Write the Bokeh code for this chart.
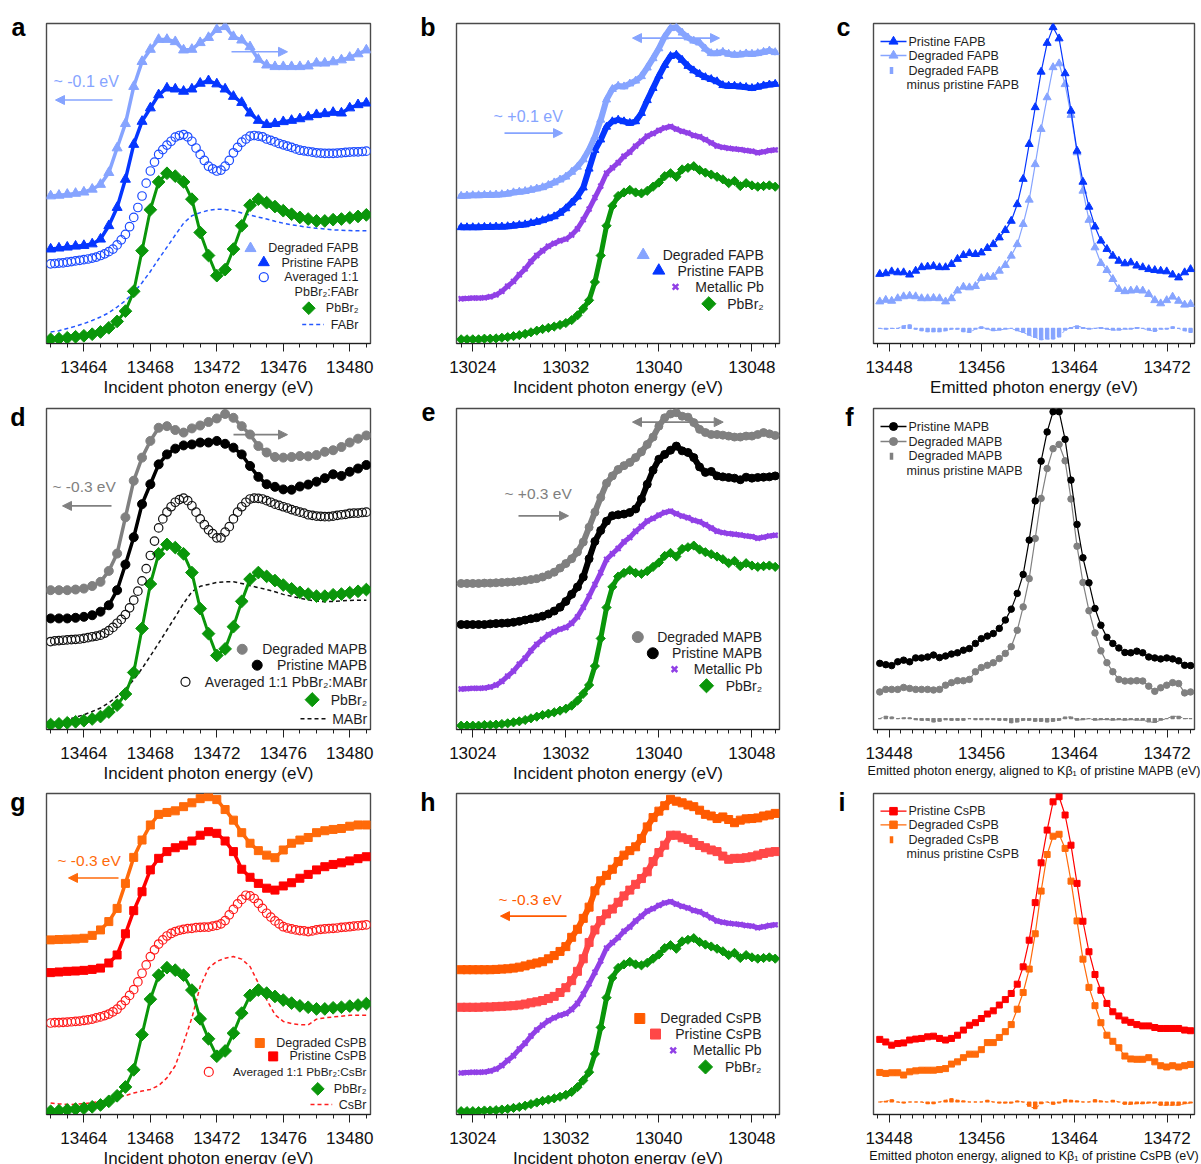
import math

from bokeh.embed import file_html
from bokeh.layouts import column, row
from bokeh.models import Arrow, FixedTicker, Label, NormalHead, Range1d, SingleIntervalTicker
from bokeh.plotting import figure
from bokeh.resources import INLINE

FONT = "Liberation Sans"
TEXT = "#1e1e1e"

# ---------------------------------------------------------------------------
# Energy grids (eV)
# ---------------------------------------------------------------------------
br_energy = [13462.0, 13462.5, 13463.0, 13463.5, 13464.0, 13464.5, 13465.0, 13465.5,
             13466.0, 13466.5, 13467.0, 13467.5, 13468.0, 13468.5, 13469.0, 13469.5,
             13470.0, 13470.5, 13471.0, 13471.5, 13472.0, 13472.5, 13473.0, 13473.5,
             13474.0, 13474.5, 13475.0, 13475.5, 13476.0, 13476.5, 13477.0, 13477.5,
             13478.0, 13478.5, 13479.0, 13479.5, 13480.0, 13480.5, 13481.0]

# finer grid used for the averaged (1:1 mixture) spectra
br_fine_energy = [13462.00, 13462.25, 13462.50, 13462.75, 13463.00, 13463.25, 13463.50,
                  13463.75, 13464.00, 13464.25, 13464.50, 13464.75, 13465.00, 13465.25,
                  13465.50, 13465.75, 13466.00, 13466.25, 13466.50, 13466.75, 13467.00,
                  13467.25, 13467.50, 13467.75, 13468.00, 13468.25, 13468.50, 13468.75,
                  13469.00, 13469.25, 13469.50, 13469.75, 13470.00, 13470.25, 13470.50,
                  13470.75, 13471.00, 13471.25, 13471.50, 13471.75, 13472.00, 13472.25,
                  13472.50, 13472.75, 13473.00, 13473.25, 13473.50, 13473.75, 13474.00,
                  13474.25, 13474.50, 13474.75, 13475.00, 13475.25, 13475.50, 13475.75,
                  13476.00, 13476.25, 13476.50, 13476.75, 13477.00, 13477.25, 13477.50,
                  13477.75, 13478.00, 13478.25, 13478.50, 13478.75, 13479.00, 13479.25,
                  13479.50, 13479.75, 13480.00, 13480.25, 13480.50, 13480.75, 13481.00]

pb_energy = [13023.0, 13023.5, 13024.0, 13024.5, 13025.0, 13025.5, 13026.0, 13026.5,
             13027.0, 13027.5, 13028.0, 13028.5, 13029.0, 13029.5, 13030.0, 13030.5,
             13031.0, 13031.5, 13032.0, 13032.5, 13033.0, 13033.5, 13034.0, 13034.5,
             13035.0, 13035.5, 13036.0, 13036.5, 13037.0, 13037.5, 13038.0, 13038.5,
             13039.0, 13039.5, 13040.0, 13040.5, 13041.0, 13041.5, 13042.0, 13042.5,
             13043.0, 13043.5, 13044.0, 13044.5, 13045.0, 13045.5, 13046.0, 13046.5,
             13047.0, 13047.5, 13048.0, 13048.5, 13049.0, 13049.5, 13050.0]

kb_energy = [13447.20, 13447.72, 13448.23, 13448.75, 13449.26, 13449.78, 13450.30, 13450.81,
             13451.33, 13451.84, 13452.36, 13452.88, 13453.39, 13453.91, 13454.42, 13454.94,
             13455.46, 13455.97, 13456.49, 13457.00, 13457.52, 13458.04, 13458.55, 13459.07,
             13459.58, 13460.10, 13460.62, 13461.13, 13461.65, 13462.16, 13462.68, 13463.20,
             13463.71, 13464.23, 13464.74, 13465.26, 13465.78, 13466.29, 13466.81, 13467.32,
             13467.84, 13468.36, 13468.87, 13469.39, 13469.90, 13470.42, 13470.94, 13471.45,
             13471.97, 13472.48, 13473.00, 13473.52, 13474.03]

# ---------------------------------------------------------------------------
# Br K-edge HERFD-XANES, stacked (arbitrary units)
# ---------------------------------------------------------------------------
pbbr2_br = [1.3, 1.5, 1.8, 2.1, 2.4, 2.9, 3.6, 4.9, 6.9, 10.1, 16.3, 29.0, 41.8, 50.5, 53.2,
            52.3, 50.5, 45.1, 34.7, 27.5, 21.2, 23.1, 29.5, 36.8, 43.2, 45.1, 44.0, 42.8,
            41.5, 40.4, 39.4, 38.9, 38.3, 38.3, 38.7, 38.9, 39.3, 39.7, 40.2]

fapb_degraded_br = [46.1, 46.3, 46.6, 46.9, 47.3, 48.2, 49.7, 53.4, 61.1, 68.7, 80.3, 88.1,
                    91.9, 95.0, 95.0, 94.3, 91.7, 91.9, 94.0, 95.6, 98.1, 99.0, 95.9, 94.8,
                    92.7, 88.8, 87.0, 86.5, 86.5, 86.5, 86.5, 86.7, 87.6, 87.6, 88.0, 88.6,
                    89.4, 90.5, 91.7]
fapb_pristine_br = [29.5, 29.8, 30.1, 30.4, 30.6, 31.1, 32.6, 36.8, 42.5, 51.3, 62.2, 69.4,
                    73.6, 77.7, 79.8, 79.5, 78.8, 79.5, 81.3, 82.1, 81.1, 79.5, 77.2, 75.3,
                    72.0, 69.7, 68.4, 68.7, 69.3, 69.7, 70.2, 70.8, 71.5, 71.8, 72.2, 72.0,
                    73.6, 74.6, 75.1]
fa_average_br = [24.9, 25.0, 25.1, 25.2, 25.4, 25.6, 25.8, 26.0, 26.2, 26.4,
                 26.7, 27.0, 27.5, 28.0, 28.7, 29.5, 30.8, 32.4, 34.1, 36.5,
                 39.4, 42.5, 46.1, 50.1, 53.9, 56.7, 59.1, 60.6, 62.0, 63.2,
                 64.5, 65.0, 65.3, 64.6, 63.2, 61.1, 59.1, 57.2, 55.4, 54.6,
                 53.9, 54.2, 55.4, 57.2, 59.6, 61.3, 62.9, 63.9, 64.8, 65.0,
                 64.8, 64.6, 63.9, 63.5, 63.0, 62.5, 62.1, 61.7, 61.3, 60.8,
                 60.4, 60.2, 60.0, 59.8, 59.6, 59.5, 59.4, 59.4, 59.4, 59.5,
                 59.6, 59.7, 59.8, 59.9, 59.9, 60.0, 60.1]
fabr_br = [3.6, 4.0, 4.7, 5.4, 6.2, 7.2, 8.3, 9.6, 11.4, 13.4, 15.9, 19.0, 22.5, 26.4, 30.1,
           33.9, 37.6, 39.9, 40.9, 41.6, 42.0, 41.9, 41.5, 40.8, 40.1, 39.5, 38.9, 38.2, 37.6,
           37.1, 36.7, 36.3, 36.0, 35.8, 35.5, 35.4, 35.3, 35.2, 35.2]

mapb_degraded_br = [43.4, 43.4, 43.4, 43.6, 43.9, 44.7, 46.0, 49.4, 54.8, 66.1, 77.5, 84.7,
                    89.9, 94.0, 94.5, 93.3, 92.5, 93.8, 94.7, 95.8, 96.9, 98.3, 97.1, 94.5,
                    91.9, 88.3, 86.3, 84.9, 84.7, 84.9, 85.2, 85.1, 85.5, 86.5, 87.0, 88.0,
                    89.4, 90.6, 91.6]
mapb_pristine_br = [34.6, 34.6, 34.6, 34.8, 35.1, 35.6, 36.7, 38.7, 43.4, 51.4, 59.9, 70.2,
                    76.4, 82.6, 85.7, 87.5, 88.5, 88.8, 89.4, 89.4, 89.9, 89.0, 87.8, 85.7,
                    82.1, 78.7, 76.4, 75.6, 74.8, 74.7, 75.7, 76.3, 77.2, 78.3, 79.5, 79.0,
                    80.3, 81.3, 82.4]
ma_average_br = [27.4, 27.6, 27.7, 27.8, 27.9, 28.0, 28.1, 28.2, 28.4, 28.6,
                 28.9, 29.1, 29.4, 30.0, 30.8, 31.8, 33.1, 34.3, 35.8, 37.9,
                 40.3, 43.1, 46.3, 50.1, 54.2, 58.7, 62.8, 65.6, 67.7, 69.4,
                 70.8, 71.6, 72.1, 71.3, 69.7, 67.7, 65.6, 63.8, 62.2, 61.0,
                 59.7, 59.7, 61.5, 63.2, 65.6, 67.7, 69.4, 70.8, 71.8, 72.1,
                 72.0, 71.8, 71.3, 70.8, 70.2, 69.8, 69.4, 69.0, 68.5, 68.1,
                 67.7, 67.4, 66.9, 66.7, 66.5, 66.4, 66.3, 66.3, 66.5, 66.7,
                 66.9, 67.0, 67.3, 67.4, 67.4, 67.6, 67.7]
mabr_br = [2.1, 2.6, 3.1, 3.8, 4.6, 5.6, 6.7, 8.3, 10.3, 12.6, 15.5, 19.0, 22.9, 26.9, 31.0,
           35.1, 39.3, 42.9, 44.6, 45.2, 45.8, 46.0, 46.0, 45.5, 44.8, 44.2, 43.6, 42.9, 42.1,
           41.5, 40.9, 40.4, 40.0, 39.8, 39.9, 40.1, 40.2, 40.3, 40.3]

cspb_degraded_br = [54.4, 54.5, 54.6, 54.7, 54.9, 55.8, 57.5, 60.1, 64.2, 72.0, 80.1, 85.5,
                    90.2, 93.5, 94.1, 94.6, 95.9, 97.1, 98.4, 99.0, 98.1, 95.0, 91.7, 87.8,
                    84.5, 82.2, 80.8, 80.0, 82.4, 84.5, 85.5, 86.3, 87.8, 88.4, 88.8, 89.1,
                    89.8, 90.2, 90.2]
cspb_pristine_br = [44.2, 44.4, 44.6, 44.7, 44.9, 45.2, 45.6, 47.2, 49.7, 56.3, 63.5, 69.4,
                    76.2, 79.8, 81.9, 83.1, 83.9, 85.2, 87.0, 88.1, 87.6, 85.2, 81.9, 76.4,
                    73.9, 72.0, 70.5, 69.9, 71.2, 72.2, 73.6, 74.8, 76.2, 77.2, 77.9, 78.4,
                    79.0, 79.7, 80.3]
cs_average_br = [28.5, 28.6, 28.6, 28.7, 28.8, 28.9, 29.0, 29.1, 29.3, 29.5,
                 29.7, 30.1, 30.4, 30.8, 31.3, 32.0, 32.8, 34.1, 35.5, 37.1,
                 38.9, 41.3, 44.0, 46.6, 49.2, 51.3, 53.1, 54.4, 55.6, 56.4,
                 57.0, 57.4, 57.7, 57.9, 58.0, 58.2, 58.3, 58.4, 58.4, 58.7,
                 58.9, 59.4, 60.4, 62.2, 63.9, 65.6, 67.0, 68.3, 68.1, 67.3,
                 65.8, 64.2, 62.7, 61.5, 60.3, 59.4, 58.5, 58.1, 57.8, 57.5,
                 57.3, 57.2, 57.0, 57.2, 57.5, 57.7, 57.8, 57.9, 58.0, 58.1,
                 58.3, 58.4, 58.5, 58.7, 58.8, 58.9, 59.1]
csbr_br = [3.6, 3.3, 3.1, 3.2, 3.4, 3.7, 4.1, 4.7, 5.2, 5.9, 6.7, 7.3, 7.8, 9.0, 11.4, 15.2,
           22.3, 30.1, 39.9, 45.6, 47.7, 48.7, 49.2, 48.4, 46.1, 40.9, 35.8, 31.1, 29.0, 28.3,
           28.0, 27.9, 29.7, 30.1, 30.4, 30.6, 30.9, 30.9, 30.9]

# ---------------------------------------------------------------------------
# Pb L3-edge HERFD-XANES, stacked (arbitrary units)
# ---------------------------------------------------------------------------
pbbr2_pb = [1.3, 1.3, 1.3, 1.3, 1.5, 1.5, 1.6, 1.8, 2.0, 2.3, 2.6, 3.0, 3.5, 4.0, 4.5, 4.9,
            5.3, 5.8, 6.4, 7.3, 8.8, 10.9, 13.5, 19.2, 27.5, 36.8, 43.0, 46.1, 47.2, 48.0,
            47.2, 46.9, 47.7, 49.0, 50.3, 52.3, 53.2, 52.1, 54.4, 54.9, 55.4, 54.2, 53.4,
            52.8, 52.1, 51.3, 50.1, 50.8, 49.2, 50.1, 49.4, 49.0, 49.2, 49.4, 49.0]
metal_pb = [14.0, 14.1, 14.2, 14.2, 14.3, 14.6, 15.2, 16.3, 17.9, 19.4, 21.5, 23.3, 25.6, 27.5,
            29.0, 30.4, 31.3, 32.1, 32.6, 33.9, 35.8, 38.7, 42.0, 45.6, 49.2, 53.2, 54.9, 56.5,
            58.5, 59.8, 61.7, 63.2, 64.8, 65.6, 66.6, 67.4, 67.8, 67.0, 66.3, 65.8, 65.0, 64.6,
            63.7, 62.7, 61.7, 61.3, 61.0, 60.8, 60.6, 60.3, 60.1, 59.6, 59.9, 60.3, 60.5]

fapb_degraded_pb = [46.1, 46.2, 46.3, 46.3, 46.4, 46.4, 46.5, 46.6, 46.8, 47.2, 47.4, 47.6,
                    48.0, 48.4, 48.8, 49.5, 50.3, 51.2, 52.1, 53.6, 55.2, 57.5, 60.6, 64.6,
                    69.9, 76.2, 79.5, 80.5, 80.3, 81.2, 82.1, 83.5, 86.2, 89.1, 92.2, 95.9,
                    98.5, 98.8, 97.1, 95.6, 94.6, 94.0, 92.1, 90.7, 90.7, 91.1, 90.5, 90.2,
                    90.3, 90.6, 90.5, 90.7, 91.1, 91.5, 91.0]
fapb_pristine_pb = [36.3, 36.3, 36.3, 36.3, 36.4, 36.4, 36.5, 36.5, 36.6, 36.8, 37.0, 37.2,
                    37.6, 38.0, 38.5, 39.1, 39.7, 40.8, 42.2, 44.0, 45.9, 48.7, 54.6, 60.4,
                    63.7, 67.7, 69.4, 69.9, 69.4, 68.9, 69.4, 72.0, 76.0, 79.8, 83.6, 87.0,
                    89.8, 90.2, 88.6, 86.7, 85.3, 84.2, 83.2, 82.6, 81.9, 80.7, 80.5, 80.5,
                    80.3, 80.1, 79.8, 80.2, 80.6, 80.9, 81.1]
mapb_degraded_pb = [45.5, 45.5, 45.5, 45.5, 45.6, 45.6, 45.7, 45.8, 45.9, 46.0, 46.2, 46.4,
                    46.7, 47.0, 47.5, 48.2, 49.0, 50.3, 51.7, 53.2, 55.3, 58.4, 63.0, 67.7,
                    72.3, 76.7, 79.0, 81.0, 82.2, 83.2, 84.7, 86.5, 88.8, 91.1, 94.5, 97.1,
                    98.3, 98.7, 97.6, 97.3, 95.6, 93.5, 92.5, 91.9, 91.9, 91.7, 91.4, 91.1,
                    91.1, 91.4, 91.4, 91.9, 92.5, 92.1, 91.6]
mapb_pristine_pb = [32.7, 32.7, 32.7, 32.7, 32.7, 32.9, 33.0, 33.1, 33.2, 33.4, 33.7, 34.1,
                    34.5, 34.8, 35.3, 36.0, 36.9, 38.1, 39.9, 42.1, 44.4, 47.5, 53.2, 58.6,
                    62.0, 64.9, 66.6, 66.9, 67.1, 67.6, 68.7, 71.8, 76.4, 80.8, 84.2, 85.7,
                    87.0, 88.3, 86.8, 86.3, 84.7, 81.8, 80.1, 80.4, 79.0, 78.7, 78.5, 78.3,
                    77.8, 78.6, 78.3, 78.5, 78.6, 78.7, 79.0]
cspb_degraded_pb = [45.1, 45.1, 45.1, 45.1, 45.1, 45.1, 45.2, 45.3, 45.4, 45.6, 45.9, 46.3,
                    46.8, 47.2, 47.6, 48.5, 49.5, 50.8, 52.3, 55.2, 57.7, 61.1, 64.6, 69.7,
                    72.8, 74.5, 76.4, 78.8, 80.8, 82.2, 83.4, 86.0, 89.6, 92.5, 94.5, 96.2,
                    98.2, 97.6, 97.1, 96.4, 95.9, 94.8, 93.5, 93.0, 92.2, 92.7, 91.9, 90.9,
                    91.7, 92.1, 92.2, 92.4, 93.0, 93.3, 93.8]
cspb_pristine_pb = [33.4, 33.4, 33.4, 33.4, 33.5, 33.5, 33.6, 33.7, 33.8, 33.9, 34.1, 34.4,
                    34.8, 35.1, 35.5, 36.1, 36.8, 38.0, 39.5, 41.7, 44.6, 48.5, 53.6, 57.5,
                    60.4, 62.5, 64.0, 66.1, 68.1, 69.9, 71.7, 73.5, 75.6, 78.8, 81.6, 83.9,
                    87.0, 87.0, 86.2, 85.7, 84.7, 83.8, 83.1, 82.4, 81.9, 80.5, 79.5, 79.8,
                    79.8, 80.0, 80.3, 80.8, 81.3, 81.7, 81.9]

# ---------------------------------------------------------------------------
# Pb K-beta1 emission (arbitrary units) and degraded-minus-pristine differences
# ---------------------------------------------------------------------------
fapb_pristine_kb = [21.7, 21.9, 22.5, 22.2, 22.2, 21.5, 22.7, 23.8, 24.0, 24.2, 23.8, 23.8,
                    24.8, 26.4, 27.6, 28.2, 27.9, 28.4, 29.8, 31.0, 33.1, 35.4, 38.3, 43.5,
                    51.4, 62.3, 73.8, 84.9, 93.9, 98.8, 95.3, 84.4, 72.7, 60.2, 50.5, 42.7,
                    36.5, 32.1, 29.5, 27.4, 25.8, 25.0, 25.3, 24.3, 23.8, 23.2, 22.9, 22.7,
                    22.5, 21.5, 20.6, 22.2, 23.2]
fapb_degraded_kb = [13.1, 13.6, 13.3, 14.1, 14.7, 14.9, 14.7, 14.1, 14.1, 14.2, 14.1, 13.1,
                    14.1, 16.5, 17.7, 17.5, 17.9, 20.4, 20.8, 20.8, 22.7, 24.5, 27.4, 31.0,
                    37.3, 44.9, 56.0, 67.0, 76.9, 86.3, 87.5, 81.0, 71.4, 59.7, 47.7, 38.6,
                    30.0, 25.1, 22.9, 20.1, 17.0, 16.3, 16.5, 16.7, 16.5, 15.4, 13.5, 12.5,
                    13.5, 14.6, 13.3, 12.1, 12.3]
fapb_diff_kb = [0.0, -0.2, 0.0, 0.0, 0.8, 1.1, -0.2, -0.7, -1.0, -1.0, -1.0, -0.7, -0.2, -0.2,
                -1.0, -1.2, -0.2, 0.5, -0.2, -0.7, -0.5, -0.2, 0.0, -0.7, -1.2, -2.1, -2.8,
                -3.5, -3.3, -3.3, -2.6, -0.5, 0.3, 0.8, 0.3, -0.2, 0.0, 0.3, -0.2, -0.5, -0.5,
                -0.2, -0.2, 0.3, 0.0, -0.5, -0.9, -0.2, -0.2, 0.5, 0.0, -0.7, -1.2]

mapb_pristine_kb = [20.6, 20.2, 19.9, 21.1, 21.6, 21.1, 22.3, 22.3, 22.6, 23.2, 22.4, 22.9,
                    23.5, 23.9, 24.7, 25.2, 26.8, 28.3, 29.1, 29.9, 31.5, 34.1, 37.5, 42.4,
                    48.3, 59.0, 71.2, 83.6, 92.7, 99.0, 99.0, 90.4, 77.7, 63.9, 53.5, 45.7,
                    37.7, 32.5, 28.7, 26.8, 25.4, 24.0, 23.9, 24.4, 23.9, 22.6, 22.3, 22.0,
                    22.3, 22.0, 21.4, 20.0, 19.9]
mapb_degraded_kb = [11.7, 12.5, 12.5, 12.5, 13.1, 12.8, 12.5, 12.5, 12.5, 12.3, 12.5, 13.8,
                    14.6, 15.2, 15.2, 15.6, 18.0, 19.3, 20.0, 20.8, 22.1, 23.7, 25.8, 30.9,
                    38.2, 47.0, 59.5, 72.0, 81.3, 87.5, 88.8, 83.7, 71.8, 57.1, 45.8, 37.0,
                    30.1, 24.5, 20.8, 18.0, 15.6, 15.1, 15.1, 15.2, 15.1, 13.5, 11.9, 13.0,
                    13.8, 14.6, 14.3, 11.4, 11.7]
mapb_diff_kb = [0.0, 0.7, 0.5, 0.0, 0.2, 0.2, -0.3, -0.5, -0.5, -1.0, -0.8, -0.3, -0.5, -0.5,
                -0.5, 0.0, -0.3, -0.3, -0.3, -0.3, -0.5, -0.5, -1.3, -1.0, -0.5, -0.5, -0.8,
                -0.8, -1.0, -0.8, -0.5, 0.5, 0.5, -0.5, -0.3, 0.0, -0.5, -0.3, -0.3, -0.5,
                -0.3, -0.5, -0.3, -0.5, -0.5, -1.0, -1.2, -0.5, 0.0, 0.7, 0.7, 0.0, 0.0]

cspb_pristine_kb = [23.4, 22.6, 21.6, 22.1, 22.3, 23.2, 23.5, 23.7, 24.2, 24.4, 23.7, 23.2,
                    23.7, 24.7, 26.3, 27.8, 28.6, 29.9, 31.3, 32.3, 34.1, 35.8, 37.7, 40.6,
                    46.0, 54.3, 66.0, 78.4, 88.6, 97.4, 99.0, 93.3, 83.9, 72.0, 60.2, 50.7,
                    43.6, 38.7, 34.6, 32.0, 30.7, 29.4, 28.7, 28.0, 27.6, 27.6, 27.1, 26.8,
                    26.8, 26.8, 26.8, 26.3, 26.1]
cspb_degraded_kb = [13.1, 12.8, 13.0, 13.0, 12.3, 13.3, 13.6, 13.8, 13.8, 13.8, 14.0, 14.3,
                    15.7, 16.4, 17.7, 18.8, 18.8, 20.2, 22.4, 22.4, 24.0, 25.8, 28.0, 32.8,
                    38.0, 45.3, 56.3, 69.6, 81.0, 86.7, 87.3, 82.9, 72.7, 60.3, 48.4, 39.6,
                    33.9, 28.6, 24.7, 22.8, 20.8, 18.2, 17.3, 17.2, 17.2, 17.7, 16.4, 15.2,
                    14.8, 15.2, 14.8, 15.2, 15.6]
cspb_diff_kb = [0.0, 0.2, 0.7, 0.0, -0.3, 0.0, 0.0, 0.0, -0.5, -0.5, 0.0, 0.5, 1.0, 0.5, 0.3,
                0.0, 0.0, 0.0, 0.5, 0.0, -0.3, -0.3, -0.3, 0.3, 0.0, -1.3, -2.1, -0.5, 0.0,
                -0.7, -0.3, 0.7, 0.5, 0.3, 0.0, 0.0, 0.7, 0.3, 0.0, 0.5, 0.0, -0.7, -0.7, -0.5,
                -0.5, -0.3, -0.3, -1.0, -1.0, -1.0, -1.0, -0.5, -0.3]

# vertical stacking (scale, offset) of the shared reference spectra in each panel
PBBR2_BR_STACK = {"a": (1.0, 0.0), "d": (1.081, 0.14), "g": (0.862, -0.12)}
METAL_STACK = {"b": (1.0, 0.0), "e": (1.03, -1.8), "h": (0.992, -0.93)}
PBBR2_PB_STACK = {"b": (1.0, 0.0), "e": (1.037, -0.15), "h": (0.996, -0.25)}
# baseline of the difference traces
DIFF_BASE = {"c": 4.7, "f": 3.4, "i": 3.9}

# ---------------------------------------------------------------------------
# Colours
# ---------------------------------------------------------------------------
LIGHT_BLUE = "#86A4FF"
BLUE = "#0536FF"
GREEN = "#0A960A"
GRAY = "#808080"
BLACK = "#000000"
ORANGE = "#FF6A0A"
RED = "#FF0000"
SALMON = "#FF4747"
ORANGE_H = "#FF5A00"
PURPLE = "#9140E6"
FRAME_COLOR = "#4a4a4a"

# ---------------------------------------------------------------------------
# Page geometry: frame boxes (left, top, width, height) in page pixels
# ---------------------------------------------------------------------------
FRAMES = {
    "a": (46, 23, 324, 322), "b": (456, 23, 323, 322), "c": (873, 23, 321, 320),
    "d": (46, 407, 324, 323), "e": (456, 407, 323, 323), "f": (873, 408, 321, 321),
    "g": (46, 793, 324, 322), "h": (456, 793, 323, 322), "i": (873, 793, 321, 321),
}
BR_RANGE = (13461.75, 13481.25)
PB_RANGE = (13022.6, 13050.37)
KB_RANGE = (13446.66, 13474.37)
XR = {"a": BR_RANGE, "d": BR_RANGE, "g": BR_RANGE,
      "b": PB_RANGE, "e": PB_RANGE, "h": PB_RANGE,
      "c": KB_RANGE, "f": KB_RANGE, "i": KB_RANGE}
GRID_POS = {"a": (0, 0), "b": (0, 1), "c": (0, 2),
            "d": (1, 0), "e": (1, 1), "f": (1, 2),
            "g": (2, 0), "h": (2, 1), "i": (2, 2)}
COL_X = [0, 410, 826]
COL_W = [410, 416, 374]
ROW_Y = [0, 400, 785]
ROW_H = [400, 385, 385]
# right edge (page px) of each panel letter
LETTER_RIGHT = {"a": 25, "b": 435, "c": 850, "d": 25, "e": 435, "f": 853,
                "g": 25, "h": 435, "i": 845}


def to_data(key, px, py):
    """Convert a page-pixel position to data coordinates of panel `key`."""
    left, top, w, h = FRAMES[key]
    x0, x1 = XR[key]
    return x0 + (px - left) / w * (x1 - x0), 100.0 * (top + h - py) / h


def stacked(vals, scale_offset):
    k, off = scale_offset
    return [off + k * v for v in vals]


def make_panel(key, interval, xlabel, xlabel_size="17px"):
    r, c = GRID_POS[key]
    left, top, w, h = FRAMES[key]
    x0, x1 = XR[key]
    p = figure(width=COL_W[c], height=ROW_H[r],
               x_range=Range1d(x0, x1), y_range=Range1d(0, 100),
               min_border_left=left - COL_X[c],
               min_border_right=COL_X[c] + COL_W[c] - left - w,
               min_border_top=top - ROW_Y[r],
               min_border_bottom=ROW_Y[r] + ROW_H[r] - top - h,
               output_backend="svg", toolbar_location=None)
    p.grid.visible = False
    p.background_fill_color = "white"
    p.border_fill_color = "white"
    p.outline_line_color = FRAME_COLOR
    p.outline_line_width = 1.4

    ax = p.xaxis[0]
    ax.ticker = SingleIntervalTicker(interval=interval, num_minor_ticks=interval)
    ax.axis_line_color = "#202020"
    ax.major_tick_line_color = "#202020"
    ax.minor_tick_line_color = "#202020"
    ax.major_tick_out = 8
    ax.major_tick_in = 0
    ax.minor_tick_out = 4
    ax.minor_tick_in = 0
    ax.major_label_text_font = FONT
    ax.major_label_text_font_size = "17px"
    ax.major_label_text_color = "#111111"
    ax.major_label_standoff = 9
    ax.axis_label = xlabel
    ax.axis_label_text_font = FONT
    ax.axis_label_text_font_size = xlabel_size
    ax.axis_label_text_font_style = "normal"
    ax.axis_label_text_color = "#111111"
    ax.axis_label_standoff = 2

    # the left axis carries only the bold panel letter
    yax = p.yaxis[0]
    yax.ticker = FixedTicker(ticks=[99])
    yax.major_label_overrides = {99: key}
    yax.axis_line_color = None
    yax.major_tick_line_color = None
    yax.minor_tick_line_color = None
    yax.major_tick_out = 0
    yax.major_tick_in = 0
    yax.major_label_text_font = FONT
    yax.major_label_text_font_size = "25px"
    yax.major_label_text_font_style = "bold"
    yax.major_label_text_color = "#000000"
    yax.major_label_standoff = left - LETTER_RIGHT[key]
    return p


def add_text(p, key, px, py, text, size, align="right", color=TEXT):
    x, y = to_data(key, px, py)
    p.add_layout(Label(x=x, y=y, text=text, text_font=FONT, text_font_size=size,
                       text_align=align, text_baseline="middle", text_color=color))


def add_key(p, key, px, py, **kw):
    x, y = to_data(key, px, py)
    p.scatter([x], [y], **kw)


def add_key_line(p, key, px0, px1, py, **kw):
    xa, y = to_data(key, px0, py)
    xb, _ = to_data(key, px1, py)
    p.line([xa, xb], [y, y], **kw)


def add_arrow(p, key, px0, px1, py, color, both=False):
    xa, y = to_data(key, px0, py)
    xb, _ = to_data(key, px1, py)
    head = dict(size=9, fill_color=color, line_color=color, line_width=1)
    p.add_layout(Arrow(end=NormalHead(**head),
                       start=NormalHead(**head) if both else None,
                       x_start=xa, y_start=y, x_end=xb, y_end=y,
                       line_color=color, line_width=1.6))


ROT = math.pi / 4
DIAMOND = dict(marker="square", angle=ROT)


def band(p, x, y, color, width=6):
    p.line(x, y, line_color=color, line_width=width, line_join="round", line_cap="round")


def filled(p, x, y, color, marker, size, angle=0.0):
    p.scatter(x, y, marker=marker, size=size, angle=angle, fill_color=color,
              line_color=color)


def rings(p, x, y, color, size, width=1.2):
    p.scatter(x, y, marker="circle", size=size, fill_alpha=0, line_color=color,
              line_width=width)


INC_LABEL = "Incident photon energy (eV)"

# ---------------------------------------------------------------------------
# Left column: Br K-edge
# ---------------------------------------------------------------------------
def br_panel(key, cfg):
    p = make_panel(key, 4, INC_LABEL)
    ref = stacked(pbbr2_br, PBBR2_BR_STACK[key])
    p.line(br_energy, cfg["salt"], line_color=cfg["salt_color"], line_width=1.5,
           line_dash="4 3")
    band(p, br_energy, ref, GREEN, 3)
    filled(p, br_energy, ref, GREEN, "square", 9, ROT)
    rings(p, br_fine_energy, cfg["avg"], cfg["avg_color"], 8.5)
    for vals, col in ((cfg["pristine"], cfg["pristine_color"]),
                      (cfg["degraded"], cfg["degraded_color"])):
        band(p, br_energy, vals, col, 3.5)
        filled(p, br_energy, vals, col, cfg["marker"], cfg["msize"])
    return p


# panel a
pa = br_panel("a", dict(salt=fabr_br, salt_color="#2457FF", avg=fa_average_br,
                        avg_color="#1C4BFF", pristine=fapb_pristine_br,
                        pristine_color=BLUE, degraded=fapb_degraded_br,
                        degraded_color=LIGHT_BLUE, marker="triangle", msize=10))
add_text(pa, "a", 53, 81, "~ -0.1 eV", "16px", align="left", color=LIGHT_BLUE)
add_arrow(pa, "a", 112, 55, 100, LIGHT_BLUE)
add_arrow(pa, "a", 231, 287, 51.5, LIGHT_BLUE)
add_key(pa, "a", 250, 249.3, marker="triangle", size=11, fill_color=LIGHT_BLUE,
        line_color=LIGHT_BLUE)
add_text(pa, "a", 358, 249.3, "Degraded FAPB", "12.5px")
add_key(pa, "a", 263.3, 263.5, marker="triangle", size=11, fill_color=BLUE, line_color=BLUE)
add_text(pa, "a", 358, 263.5, "Pristine FAPB", "12.5px")
add_key(pa, "a", 263.3, 278.3, marker="circle", size=9, fill_alpha=0, line_color="#1C4BFF",
        line_width=1.3)
add_text(pa, "a", 358, 278.3, "Averaged 1:1", "12.5px")
add_text(pa, "a", 358, 293.3, "PbBr₂:FABr", "12.5px")
add_key(pa, "a", 308.3, 309.5, size=9, fill_color=GREEN, line_color=GREEN, **DIAMOND)
add_text(pa, "a", 358, 309.5, "PbBr₂", "12.5px")
add_key_line(pa, "a", 301.7, 323.3, 326, line_color="#2457FF", line_width=1.5,
             line_dash="4 3")
add_text(pa, "a", 358, 326, "FABr", "12.5px")

# panel d
pd_ = br_panel("d", dict(salt=mabr_br, salt_color="#111111", avg=ma_average_br,
                         avg_color="#111111", pristine=mapb_pristine_br,
                         pristine_color=BLACK, degraded=mapb_degraded_br,
                         degraded_color=GRAY, marker="circle", msize=9))
add_text(pd_, "d", 52, 485, "~ -0.3 eV", "15.5px", align="left", color=GRAY)
add_arrow(pd_, "d", 111, 62, 505, GRAY)
add_arrow(pd_, "d", 233, 287, 433.3, GRAY)
add_key(pd_, "d", 241.7, 649.3, marker="circle", size=10, fill_color=GRAY, line_color=GRAY)
add_text(pd_, "d", 366.7, 649.3, "Degraded MAPB", "14px")
add_key(pd_, "d", 256.7, 665.3, marker="circle", size=10, fill_color=BLACK,
        line_color=BLACK)
add_text(pd_, "d", 366.7, 665.3, "Pristine MAPB", "14px")
add_key(pd_, "d", 185, 682, marker="circle", size=9, fill_alpha=0, line_color="#111111",
        line_width=1.2)
add_text(pd_, "d", 366.7, 682, "Averaged 1:1 PbBr₂:MABr", "14px")
add_key(pd_, "d", 311.7, 700, size=10, fill_color=GREEN, line_color=GREEN, **DIAMOND)
add_text(pd_, "d", 366.7, 700, "PbBr₂", "14px")
add_key_line(pd_, "d", 300, 325, 719.3, line_color="#111111", line_width=1.5,
             line_dash="4 3")
add_text(pd_, "d", 366.7, 719.3, "MABr", "14px")

# panel g
pg = br_panel("g", dict(salt=csbr_br, salt_color="#FF1E1E", avg=cs_average_br,
                        avg_color="#FF1A1A", pristine=cspb_pristine_br,
                        pristine_color=RED, degraded=cspb_degraded_br,
                        degraded_color=ORANGE, marker="square", msize=8))
add_text(pg, "g", 57, 860, "~ -0.3 eV", "15.5px", align="left", color=ORANGE)
add_arrow(pg, "g", 118, 68, 877.7, ORANGE)
add_key(pg, "g", 259.3, 1043.3, marker="square", size=9, fill_color=ORANGE,
        line_color=ORANGE)
add_text(pg, "g", 366, 1043.3, "Degraded CsPB", "12.5px")
add_key(pg, "g", 272.7, 1056.7, marker="square", size=9, fill_color=RED, line_color=RED)
add_text(pg, "g", 366, 1056.7, "Pristine CsPB", "12.5px")
add_key(pg, "g", 208.3, 1072.3, marker="circle", size=9, fill_alpha=0, line_color="#FF1A1A",
        line_width=1.2)
add_text(pg, "g", 366, 1072, "Averaged 1:1 PbBr₂:CsBr", "11.8px")
add_key(pg, "g", 317.3, 1089.3, size=9, fill_color=GREEN, line_color=GREEN, **DIAMOND)
add_text(pg, "g", 366, 1089.3, "PbBr₂", "12.5px")
add_key_line(pg, "g", 310, 331.7, 1105, line_color="#FF1E1E", line_width=1.5,
             line_dash="4 3")
add_text(pg, "g", 366, 1105, "CsBr", "12.5px")

# ---------------------------------------------------------------------------
# Middle column: Pb L3-edge
# ---------------------------------------------------------------------------
def pb_panel(key, pristine, p_color, degraded, d_color, marker):
    p = make_panel(key, 8, INC_LABEL)
    ref = stacked(pbbr2_pb, PBBR2_PB_STACK[key])
    metal = stacked(metal_pb, METAL_STACK[key])
    band(p, pb_energy, ref, GREEN, 5)
    filled(p, pb_energy, ref, GREEN, "square", 6.5, ROT)
    band(p, pb_energy, metal, PURPLE, 5)
    p.scatter(pb_energy, metal, marker="x", size=7, line_color=PURPLE, line_width=2)
    for vals, col in ((pristine, p_color), (degraded, d_color)):
        band(p, pb_energy, vals, col, 6)
        filled(p, pb_energy, vals, col, marker, 8)
    return p


def pb_legend(p, key, rows, right_x, size):
    for (mx, py, style, text) in rows:
        add_key(p, key, mx, py, **style)
        add_text(p, key, right_x, py, text, size)


METAL_KEY = dict(marker="x", size=8, line_color=PURPLE, line_width=2.5)
GREEN_KEY = dict(size=10, fill_color=GREEN, line_color=GREEN, **DIAMOND)

pb = pb_panel("b", fapb_pristine_pb, BLUE, fapb_degraded_pb, LIGHT_BLUE, "triangle")
add_text(pb, "b", 493, 116.7, "~ +0.1 eV", "16px", align="left", color=LIGHT_BLUE)
add_arrow(pb, "b", 504, 562, 133.3, LIGHT_BLUE)
add_arrow(pb, "b", 632, 719, 37.7, LIGHT_BLUE, both=True)
pb_legend(pb, "b", [
    (642.7, 256, dict(marker="triangle", size=12, fill_color=LIGHT_BLUE,
                      line_color=LIGHT_BLUE), "Degraded FAPB"),
    (658.3, 271.7, dict(marker="triangle", size=12, fill_color=BLUE, line_color=BLUE),
     "Pristine FAPB"),
    (675, 288, METAL_KEY, "Metallic Pb"),
    (708.3, 305, GREEN_KEY, "PbBr₂"),
], 763.3, "14px")

pe = pb_panel("e", mapb_pristine_pb, BLACK, mapb_degraded_pb, GRAY, "circle")
add_text(pe, "e", 504, 493, "~ +0.3 eV", "15.5px", align="left", color=GRAY)
add_arrow(pe, "e", 518, 568, 515, GRAY)
add_arrow(pe, "e", 632, 722.7, 420.7, GRAY, both=True)
pb_legend(pe, "e", [
    (637.3, 637, dict(marker="circle", size=11, fill_color=GRAY, line_color=GRAY),
     "Degraded MAPB"),
    (652.3, 653.3, dict(marker="circle", size=11, fill_color=BLACK, line_color=BLACK),
     "Pristine MAPB"),
    (674, 669.3, METAL_KEY, "Metallic Pb"),
    (706, 686, GREEN_KEY, "PbBr₂"),
], 761.7, "14px")

ph = pb_panel("h", cspb_pristine_pb, SALMON, cspb_degraded_pb, ORANGE_H, "square")
add_text(ph, "h", 498, 899, "~ -0.3 eV", "15.5px", align="left", color=ORANGE_H)
add_arrow(ph, "h", 566, 500, 916, ORANGE_H)
pb_legend(ph, "h", [
    (639.3, 1018.7, dict(marker="square", size=10, fill_color=ORANGE_H,
                         line_color=ORANGE_H), "Degraded CsPB"),
    (655, 1034.3, dict(marker="square", size=10, fill_color=SALMON, line_color=SALMON),
     "Pristine CsPB"),
    (672.7, 1050.7, METAL_KEY, "Metallic Pb"),
    (705, 1067.3, GREEN_KEY, "PbBr₂"),
], 761, "14px")

# ---------------------------------------------------------------------------
# Right column: Pb K-beta1 XES
# ---------------------------------------------------------------------------
def kb_panel(key, xlabel, xlabel_size, pristine, p_color, degraded, d_color, diff,
             diff_color, marker, msize):
    p = make_panel(key, 8, xlabel, xlabel_size)
    base = DIFF_BASE[key]
    tops = [base + d for d in diff]
    p.line(kb_energy, tops, line_color=diff_color, line_width=1, line_dash="3 3")
    p.vbar(x=kb_energy, bottom=base, top=tops, width=0.28, fill_color=diff_color,
           line_color=diff_color, line_width=1.2)
    for vals, col in ((degraded, d_color), (pristine, p_color)):
        p.line(kb_energy, vals, line_color=col, line_width=1.2)
        filled(p, kb_energy, vals, col, marker, msize)
    return p


def kb_legend(p, key, rows, marker, msize):
    (y1, c1, t1), (y2, c2, t2), (y3, c3, t3), y4, t4 = rows
    for yy, col, text in ((y1, c1, t1), (y2, c2, t2)):
        add_key_line(p, key, 880, 906, yy, line_color=col, line_width=1.3)
        add_key(p, key, 893, yy, marker=marker, size=msize + 1, fill_color=col,
                line_color=col)
        add_text(p, key, 908, yy, text, "12.5px", align="left")
    add_key(p, key, 891, y3, marker="dash", angle=math.pi / 2, size=7, line_color=c3,
            line_width=3.5)
    add_text(p, key, 908, y3, t3, "12.5px", align="left")
    add_text(p, key, 906, y4, t4, "12.5px", align="left")


pc = kb_panel("c", "Emitted photon energy (eV)", "17px", fapb_pristine_kb, BLUE,
              fapb_degraded_kb, LIGHT_BLUE, fapb_diff_kb, LIGHT_BLUE, "triangle", 8)
kb_legend(pc, "c", [(41, BLUE, "Pristine FAPB"), (55, LIGHT_BLUE, "Degraded FAPB"),
                    (70, LIGHT_BLUE, "Degraded FAPB"), 84.3, "minus pristine FAPB"],
          "triangle", 8)

pf = kb_panel("f", "Emitted photon energy, aligned to Kβ₁ of pristine MAPB (eV)", "12.5px",
              mapb_pristine_kb, BLACK, mapb_degraded_kb, GRAY, mapb_diff_kb, GRAY,
              "circle", 6.5)
kb_legend(pf, "f", [(426, BLACK, "Pristine MAPB"), (441, GRAY, "Degraded MAPB"),
                    (455.7, GRAY, "Degraded MAPB"), 470, "minus pristine MAPB"],
          "circle", 7)

pi_ = kb_panel("i", "Emitted photon energy, aligned to Kβ₁ of pristine CsPB (eV)", "12.5px",
               cspb_pristine_kb, RED, cspb_degraded_kb, ORANGE, cspb_diff_kb, ORANGE,
               "square", 6)
kb_legend(pi_, "i", [(810.7, RED, "Pristine CsPB"), (824.3, ORANGE, "Degraded CsPB"),
                     (839.3, ORANGE, "Degraded CsPB"), 853.3, "minus pristine CsPB"],
          "square", 6.5)

layout = column(row(pa, pb, pc), row(pd_, pe, pf), row(pg, ph, pi_))

with open("out.html", "w") as fh:
    fh.write(file_html(layout, INLINE))
